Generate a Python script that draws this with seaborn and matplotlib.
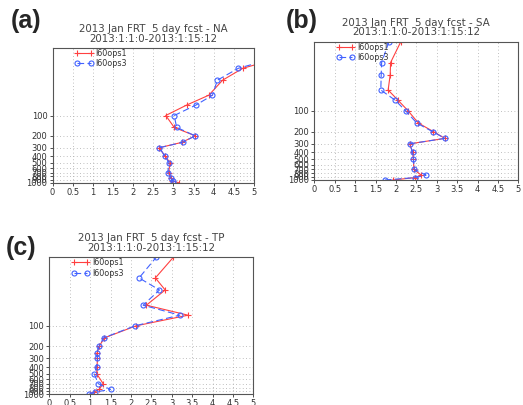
"""Vertical profiles of FRT for three regions, two model runs."""

import pandas as pd
import matplotlib
matplotlib.use('Agg')
import matplotlib.pyplot as plt
from matplotlib.ticker import NullLocator
import seaborn as sns

sns.set_style('white')
plt.rcParams['font.family'] = ['DejaVu Sans']

# pressure levels (hPa), bottom to top
levels = [1000, 925, 850, 700, 500, 400, 300, 250, 200, 150, 100, 70, 50, 30, 20, 10]

# values, same order as levels
na_ops1 = [3.15, 2.97, 2.94, 2.88, 2.92, 2.79, 2.65, 3.21, 3.54, 3.02, 2.81, 3.33, 3.88, 4.22, 4.72, 6.5]
na_ops3 = [3.0, 2.98, 2.94, 2.86, 2.89, 2.79, 2.65, 3.23, 3.54, 3.08, 3.02, 3.56, 3.97, 4.09, 4.61, 6.4]

sa_ops1 = [1.92, 2.46, 2.62, 2.44, 2.43, 2.41, 2.34, 3.2, 2.92, 2.55, 2.3, 2.05, 1.81, 1.86, 1.87, 2.12]
sa_ops3 = [1.73, 2.46, 2.74, 2.45, 2.43, 2.41, 2.34, 3.2, 2.9, 2.51, 2.24, 1.98, 1.63, 1.64, 1.65, 1.83]

tp_ops1 = [1.0, 1.1, 1.22, 1.32, 1.16, 1.17, 1.18, 1.17, 1.22, 1.35, 2.13, 3.4, 2.38, 2.84, 2.6, 3.04]
tp_ops3 = [0.97, 1.13, 1.5, 1.2, 1.1, 1.16, 1.18, 1.16, 1.22, 1.33, 2.1, 3.2, 2.3, 2.7, 2.2, 2.62]

runs = ['I60ops1', 'I60ops3']
xticks = [0, 0.5, 1, 1.5, 2, 2.5, 3, 3.5, 4, 4.5, 5]
xtick_labels = ['0', '0.5', '1', '1.5', '2', '2.5', '3', '3.5', '4', '4.5', '5']
yticks = [100, 200, 300, 400, 500, 600, 700, 800, 900, 1000]

title1 = '2013 Jan FRT  5 day fcst - {}'
title2 = '2013:1:1:0-2013:1:15:12'

W, H = 523, 405
fig = plt.figure(figsize=(W / 100, H / 100), dpi=100)


def px_box(left, top, right, bottom):
    return [left / W, 1 - bottom / H, (right - left) / W, (bottom - top) / H]


def px(x, y):
    return x / W, 1 - y / H


panels = [
    ('(a)', 'NA', na_ops1, na_ops3, (52.5, 48, 254, 183), (26, 21)),
    ('(b)', 'SA', sa_ops1, sa_ops3, (314.3, 41.7, 518.3, 180), (302, 21)),
    ('(c)', 'TP', tp_ops1, tp_ops3, (49.3, 257.3, 253.3, 394.3), (21, 248)),
]

styles = {
    'I60ops1': dict(color='#ff4040', marker='+', linestyle='-', markersize=4),
    'I60ops3': dict(color='#4262ff', marker='o', linestyle=(0, (6, 3)), markersize=3.6),
}

for tag, region, ops1, ops3, box, tagpos in panels:
    ax = fig.add_axes(px_box(*box))
    df = pd.DataFrame({
        'level': levels * 2,
        'value': ops1 + ops3,
        'run': [runs[0]] * len(levels) + [runs[1]] * len(levels),
    })
    for run in runs:
        st = styles[run]
        sns.lineplot(data=df[df['run'] == run], x='value', y='level',
                     sort=False, estimator=None, ax=ax, legend=False,
                     color=st['color'], marker=st['marker'],
                     linestyle=st['linestyle'], markersize=st['markersize'],
                     mfc='none', mec=st['color'], mew=0.8, lw=0.8, label=run)

    ax.set_yscale('log')
    ax.set_ylim(1000, 10)
    ax.set_xlim(0, 5)
    ax.set_yticks(yticks)
    ax.set_yticklabels([str(v) for v in yticks])
    ax.yaxis.set_minor_locator(NullLocator())
    ax.set_xticks(xticks)
    ax.set_xticklabels(xtick_labels)
    ax.set_xlabel('')
    ax.set_ylabel('')
    ax.tick_params(labelsize=6, colors='#333333', length=2.5, width=0.6,
                   direction='out', pad=1.2, left=True, bottom=True)
    ax.grid(True, linestyle=(0, (1, 3)), color='#aaaaaa', linewidth=0.6)
    for sp in ax.spines.values():
        sp.set_color('#555555')
        sp.set_linewidth(0.8)

    wpx = box[2] - box[0]
    hpx = box[3] - box[1]
    ax.legend(loc='upper left', bbox_to_anchor=(22 / wpx, 1 - 1 / hpx),
              frameon=False, numpoints=2, handlelength=2.3, fontsize=5.8,
              handletextpad=0.3, labelspacing=0.15, borderpad=0,
              borderaxespad=0, labelcolor='#333333')

    cx = (box[0] + box[2]) / 2
    fig.text(*px(cx, box[1] - 19), title1.format(region), ha='center',
             va='center', fontsize=7.4, color='#444444')
    fig.text(*px(cx, box[1] - 9.5), title2, ha='center', va='center',
             fontsize=7.4, color='#444444')
    fig.text(*px(*tagpos), tag, ha='center', va='center', fontsize=18,
             fontweight='bold', family=['Liberation Sans', 'DejaVu Sans'])

fig.savefig('out.png', dpi=100)
